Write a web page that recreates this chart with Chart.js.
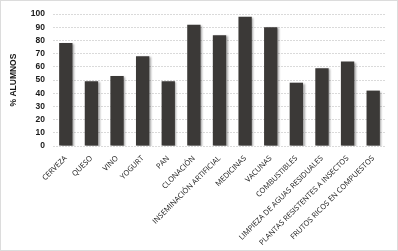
<!DOCTYPE html>
<html lang="es">
<head>
<meta charset="UTF-8">
<title>% Alumnos</title>
<script src="https://cdn.jsdelivr.net/npm/chart.js"></script>
<style>
    html, body { margin: 0; padding: 0; background: #fff; }
    #wrap {
        position: relative;
        width: 396px;
        height: 249px;
        border: 1px solid #dcdcdc;
    }
</style>
</head>
<body>
<div id="wrap"><canvas id="chart"></canvas></div>
<script>
const categories = ['CERVEZA', 'QUESO', 'VINO', 'YOGURT', 'PAN', 'CLONACIÓN',
    'INSEMINACIÓN ARTIFICIAL', 'MEDICINAS', 'VACUNAS', 'COMBUSTIBLES',
    'LIMPIEZA DE AGUAS RESIDUALES', 'PLANTAS RESISTENTES A INSECTOS',
    'FRUTOS RICOS EN COMPUESTOS'];
const alumnos = [78, 49, 53, 68, 49, 92, 84, 98, 90, 48, 59, 64, 42];
const yTitle = '% ALUMNOS';

// soft drop shadow behind the bars
const barShadow = {
    id: 'barShadow',
    beforeDatasetsDraw(chart) {
        const ctx = chart.ctx;
        ctx.save();
        ctx.shadowColor = 'rgba(0,0,0,0.35)';
        ctx.shadowBlur = 2;
        ctx.shadowOffsetX = 1.5;
        ctx.shadowOffsetY = 1;
    },
    afterDatasetsDraw(chart) {
        chart.ctx.restore();
    }
};

new Chart(document.getElementById('chart'), {
    type: 'bar',
    data: {
        labels: categories,
        datasets: [{
            data: alumnos,
            backgroundColor: '#3b3937',
            categoryPercentage: 1,
            barPercentage: 0.52
        }]
    },
    options: {
        responsive: true,
        maintainAspectRatio: false,
        animation: false,
        layout: { padding: { top: 3, right: 11, left: 4, bottom: 0 } },
        plugins: {
            legend: { display: false },
            tooltip: { enabled: false }
        },
        scales: {
            x: {
                grid: { display: false },
                border: { display: false },
                ticks: {
                    color: '#1a1a1a',
                    font: { family: 'Open Sans', size: 7.5 },
                    maxRotation: 45,
                    minRotation: 45,
                    autoSkip: false,
                    padding: 0
                },
                afterFit(scale) { scale.height = 104; }
            },
            y: {
                min: 0,
                max: 100,
                ticks: {
                    stepSize: 10,
                    autoSkip: false,
                    color: '#1a1a1a',
                    font: { family: 'Liberation Sans', size: 8.5, weight: 'bold' },
                    padding: 8
                },
                grid: {
                    color: '#dadada',
                    drawTicks: false
                },
                border: { display: false, dash: [2, 1] },
                title: {
                    display: true,
                    text: yTitle,
                    color: '#1a1a1a',
                    font: { family: 'Liberation Sans', size: 8.5, weight: 'bold' },
                    padding: 4
                },
                afterFit(scale) { scale.width = 48; }
            }
        }
    },
    plugins: [barShadow]
});
</script>
</body>
</html>
